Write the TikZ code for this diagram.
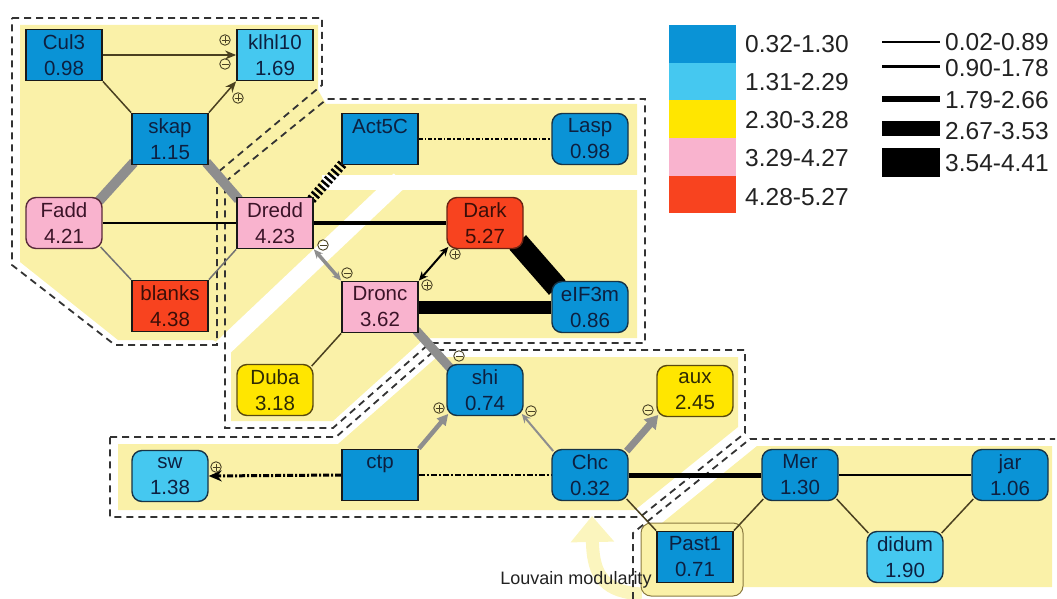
\documentclass[tikz,border=0pt]{standalone}
\usepackage{fontspec}
\setmainfont{Liberation Sans}
\usetikzlibrary{arrows.meta,calc}

% node fills
\definecolor{cdeep}{HTML}{0A93D6}
\definecolor{clight}{HTML}{45C8F0}
\definecolor{cyel}{HTML}{FFE600}
\definecolor{cpink}{HTML}{F9B3CE}
\definecolor{cred}{HTML}{F8431F}
% node text and borders
\definecolor{tdeep}{HTML}{0D2040}
\definecolor{tpink}{HTML}{3B1428}
\definecolor{tred}{HTML}{3A0E08}
\definecolor{tyel}{HTML}{2E2A05}
\definecolor{bdeep}{HTML}{173447}
\definecolor{bpink}{HTML}{5A2A3A}
\definecolor{bred}{HTML}{6A2414}
\definecolor{byel}{HTML}{5A4A10}
% module backgrounds, links, marks
\definecolor{ybg}{RGB}{250,241,168}
\definecolor{louv}{RGB}{251,245,190}
\definecolor{lgray}{HTML}{8E8E8E}
\definecolor{olivelink}{HTML}{4A4020}
\definecolor{signc}{HTML}{4A4225}
\definecolor{boxline}{HTML}{8A7A40}
\definecolor{legtext}{HTML}{222222}

\newcommand\nodefnt{\fontsize{20.5}{26}\selectfont}
\newcommand\legfnt{\fontsize{24.5}{28}\selectfont}

\pgfdeclarelayer{fills}
\pgfdeclarelayer{links}
\pgfsetlayers{fills,links,main}

\tikzset{
  gnode/.style={rectangle, minimum width=76pt, minimum height=51pt, inner sep=0pt,
                align=center, font=\nodefnt},
  boxn/.style={gnode, draw=black!90, line width=1.8pt},
  roundn/.style={gnode, rounded corners=10pt, line width=1.4pt},
  blueB/.style={boxn, fill=cdeep, text=tdeep},
  lightB/.style={boxn, fill=clight, text=tdeep},
  pinkB/.style={boxn, fill=cpink, text=tpink},
  redB/.style={boxn, fill=cred, text=tred},
  blueR/.style={roundn, fill=cdeep, draw=bdeep, text=tdeep},
  lightR/.style={roundn, fill=clight, draw=bdeep, text=tdeep},
  pinkR/.style={roundn, fill=cpink, draw=bpink, text=tpink},
  redR/.style={roundn, fill=cred, draw=bred, text=tred},
  yelR/.style={roundn, fill=cyel, draw=byel, text=tyel},
  modline/.style={draw=black!80, line width=1.8pt, dash pattern=on 7pt off 5pt},
  thinblk/.style={draw=olivelink, line width=1.5pt},
  thingray/.style={draw=lgray!80!black, line width=1.5pt},
  graythick/.style={draw=lgray, line width=10pt},
  blkhead/.style={-{Stealth[length=11pt,width=9pt]}},
  sgn/.style={circle, draw=signc, line width=0.9pt, minimum size=10.5pt, inner sep=0pt},
  sgnplus/.style={sgn, path picture={
      \draw[signc, line width=0.9pt]
        ([xshift=-3.5pt]path picture bounding box.center) -- ([xshift=3.5pt]path picture bounding box.center)
        ([yshift=-3.5pt]path picture bounding box.center) -- ([yshift=3.5pt]path picture bounding box.center);}},
  sgnminus/.style={sgn, path picture={
      \draw[signc, line width=0.9pt]
        ([xshift=-3.5pt]path picture bounding box.center) -- ([xshift=3.5pt]path picture bounding box.center);}},
  swatch/.style={rectangle, minimum width=67pt, minimum height=37.6pt, inner sep=0pt, anchor=north west},
  legtxt/.style={font=\legfnt, text=legtext, inner sep=0pt, anchor=west},
}

\begin{document}
\begin{tikzpicture}[x=1pt, y=-1pt]
\useasboundingbox (0,0) rectangle (1057,599);

% ---------------- genes ----------------
\node[blueB]  (Cul3)   at (64,55)   {Cul3\\0.98};
\node[lightB] (klhl10) at (275,55)  {klhl10\\1.69};
\node[blueB]  (skap)   at (170,139) {skap\\1.15};
\node[pinkR]  (Fadd)   at (64,223)  {Fadd\\4.21};
\node[pinkB]  (Dredd)  at (275,223) {Dredd\\4.23};
\node[redB]   (blanks) at (170,306) {blanks\\4.38};
\node[blueB]  (Act5C)  at (380,139) {Act5C\\\phantom{0.00}};
\node[blueR]  (Lasp)   at (590,139) {Lasp\\0.98};
\node[redR]   (Dark)   at (485,223) {Dark\\5.27};
\node[pinkB]  (Dronc)  at (380,307) {Dronc\\3.62};
\node[blueR]  (eIF3m)  at (590,307) {eIF3m\\0.86};
\node[yelR]   (Duba)   at (275,390) {Duba\\3.18};
\node[blueR]  (shi)    at (485,390) {shi\\0.74};
\node[yelR]   (aux)    at (695,391) {aux\\2.45};
\node[lightR] (sw)     at (170,476) {sw\\1.38};
\node[blueB]  (ctp)    at (380,475) {ctp\\\phantom{0.00}};
\node[blueR]  (Chc)    at (590,475) {Chc\\0.32};
\node[blueR]  (Mer)    at (800,475) {Mer\\1.30};
\node[blueR]  (jar)    at (1010,475) {jar\\1.06};
\node[blueB]  (Past1)  at (695,557) {Past1\\0.71};
\node[lightR] (didum)  at (905,557) {didum\\1.90};

% ---------------- interaction signs ----------------
\node[sgnplus]  (s1)  at (225,40)  {};
\node[sgnminus] (s2)  at (225,64)  {};
\node[sgnplus]  (s3)  at (238,98)  {};
\node[sgnminus] (s4)  at (323,245) {};
\node[sgnminus] (s5)  at (347,273) {};
\node[sgnplus]  (s6)  at (455,254) {};
\node[sgnplus]  (s7)  at (427,285) {};
\node[sgnminus] (s8)  at (459,356) {};
\node[sgnplus]  (s9)  at (439,408) {};
\node[sgnminus] (s10) at (531,411) {};
\node[sgnminus] (s11) at (648,410) {};
\node[sgnplus]  (s12) at (216,467) {};

% ---------------- caption of the highlighted module ----------------
\node[font=\fontsize{18}{20}\selectfont, text=legtext, inner sep=0pt] (louvtxt) at (576,580) {Louvain modularity};

% ---------------- legend ----------------
\node[swatch, fill=cdeep]  (k1) at (669,25)    {};
\node[swatch, fill=clight] (k2) at (669,62.6)  {};
\node[swatch, fill=cyel]   (k3) at (669,100.2) {};
\node[swatch, fill=cpink]  (k4) at (669,137.8) {};
\node[swatch, fill=cred]   (k5) at (669,175.4) {};
\node[legtxt] (k1t) at (745,44)  {0.32-1.30};
\node[legtxt] (k2t) at (745,82)  {1.31-2.29};
\node[legtxt] (k3t) at (745,120) {2.30-3.28};
\node[legtxt] (k4t) at (745,158) {3.29-4.27};
\node[legtxt] (k5t) at (745,197) {4.28-5.27};

\node[legtxt] (w1t) at (945,42)  {0.02-0.89};
\node[legtxt] (w2t) at (945,68)  {0.90-1.78};
\node[legtxt] (w3t) at (945,100) {1.79-2.66};
\node[legtxt] (w4t) at (945,131) {2.67-3.53};
\node[legtxt] (w5t) at (945,163) {3.54-4.41};
\coordinate (w1) at (882,42);
\coordinate (w2) at (882,67);
\coordinate (w3) at (882,99);
\coordinate (w4) at (882,129);
\coordinate (w5) at (882,162);
\draw[line width=1.5pt, shorten >=5pt]  (w1) -- (w1 -| w1t.west);
\draw[line width=3pt, shorten >=5pt]    (w2) -- (w2 -| w2t.west);
\draw[line width=6.5pt, shorten >=5pt]  (w3) -- (w3 -| w3t.west);
\draw[line width=15pt, shorten >=5pt]   (w4) -- (w4 -| w4t.west);
\draw[line width=29pt, shorten >=5pt]   (w5) -- (w5 -| w5t.west);

% ---------------- module backgrounds and outlines ----------------
\begin{pgfonlayer}{fills}
  \fill[ybg] (20,25) -- (318,25) -- (318,90) -- (326,104) -- (637,104) -- (637,338)
     -- (425,338) -- (333,421) -- (231,421) -- (231,350) -- (213,340) -- (118,340)
     -- (20,262) -- cycle;
  \draw[white, line width=15pt] (322,182) -- (642,182);
  \draw[white, line width=18pt] (213,357) -- (400,180);
  \fill[ybg] (118,444) -- (338,444) -- (437,357) -- (738,357) -- (738,427)
     -- (635,510) -- (118,510) -- cycle;
  \fill[ybg] (641,540) -- (757,446) -- (1052,446) -- (1052,587) -- (641,587) -- cycle;

  % pointer to the highlighted module
  \draw[louv, line width=13pt, -{Triangle[length=26pt,width=42pt]}]
     (642,594) .. controls (606,592) and (593,578) .. (592,516);

  \node[draw=boxline, line width=1pt, fill=ybg, rounded corners=10pt,
        minimum width=102pt, minimum height=73pt, inner sep=0pt] (louvbox) at (692,559.5) {};

  \draw[modline] (12,18) -- (322,18) -- (322,85) -- (217,173) -- (217,345) -- (115,345)
     -- (12,265) -- cycle;
  \draw[modline] (225,182) -- (327,99) -- (645,99) -- (645,343) -- (430,343) -- (333,428)
     -- (225,428) -- cycle;
  \draw[modline] (110,437) -- (336,437) -- (435,350) -- (745,350) -- (745,433) -- (640,517)
     -- (110,517) -- cycle;
  \draw[modline] (633,599) -- (633,533) -- (750,439) -- (1055,439);
\end{pgfonlayer}

% ---------------- interactions ----------------
\begin{pgfonlayer}{links}
  \draw[graythick, shorten <=-4pt, shorten >=-6pt] (skap.south west) -- (Fadd.north east);
  \draw[graythick, shorten <=-4pt, shorten >=-4pt] (skap.south east) -- (Dredd.north west);
  \draw[lgray, line width=9pt, shorten <=-4pt, shorten >=-6pt] (Dronc.south east) -- (shi.north west);

  \draw[thinblk, blkhead] (Cul3.east) -- (klhl10.west);
  \draw[thinblk, blkhead] (skap.north east) -- (klhl10.south west);
  \draw[thinblk] (Cul3.south east) -- (skap.north west);
  \draw[black, line width=2pt] (Fadd.east) -- (Dredd.west);
  \draw[thingray, shorten <=-3pt] (Fadd.south east) -- (blanks.north west);
  \draw[thingray] (Dredd.south west) -- (blanks.north east);

  \draw[black, line width=10pt, dash pattern=on 2.5pt off 2.5pt, shorten <=-4pt, shorten >=-4pt]
     (Dredd.north east) -- (Act5C.south west);
  \draw[black, line width=1.5pt, dash pattern=on 4pt off 2pt on 1.5pt off 2pt] (Act5C.east) -- (Lasp.west);
  \draw[black, line width=4pt] (Dredd.east) -- (Dark.west);
  \draw[lgray, line width=3.5pt, {Stealth[length=9pt,width=8pt]}-{Stealth[length=9pt,width=8pt]}]
     (Dredd.south east) -- (Dronc.north west);
  \draw[black, line width=2pt, shorten <=-3pt, {Stealth[length=9pt,width=8pt]}-{Stealth[length=9pt,width=8pt]}]
     (Dark.south west) -- (Dronc.north east);
  \draw[black, line width=22pt, shorten <=-9pt, shorten >=-9pt] (Dark.south east) -- (eIF3m.north west);
  \draw[black, line width=13pt] (Dronc.east) -- (eIF3m.west);
  \draw[thinblk, shorten >=-3pt] (Dronc.south west) -- (Duba.north east);

  \draw[lgray, line width=4.5pt, shorten >=-3pt, -{Triangle[length=11pt,width=11pt]}] (ctp.north east) -- (shi.south west);
  \draw[lgray, line width=2pt, shorten <=-3pt, shorten >=-3pt, -{Stealth[length=9pt,width=8pt]}] (Chc.north west) -- (shi.south east);
  \draw[lgray, line width=7pt, shorten <=-3pt, shorten >=-3pt, -{Triangle[length=13pt,width=15pt]}] (Chc.north east) -- (aux.south west);

  \draw[black, line width=3pt, dash pattern=on 6pt off 2pt on 2pt off 2pt, -{Stealth[length=13pt,width=11pt]}]
     (ctp.west) -- (sw.east);
  \draw[black, line width=2.5pt, dash pattern=on 6pt off 2pt on 2pt off 2pt] (ctp.east) -- (Chc.west);
  \draw[black, line width=5pt] (Chc.east) -- (Mer.west);
  \draw[black, line width=2.5pt] (Mer.east) -- (jar.west);
  \draw[thinblk, shorten <=-3pt] (Chc.south east) -- (Past1.north west);
  \draw[thinblk, shorten >=-3pt] (Past1.north east) -- (Mer.south west);
  \draw[thinblk, shorten <=-3pt, shorten >=-3pt] (Mer.south east) -- (didum.north west);
  \draw[thinblk, shorten <=-3pt, shorten >=-3pt] (didum.north east) -- (jar.south west);
\end{pgfonlayer}
\end{tikzpicture}
\end{document}
